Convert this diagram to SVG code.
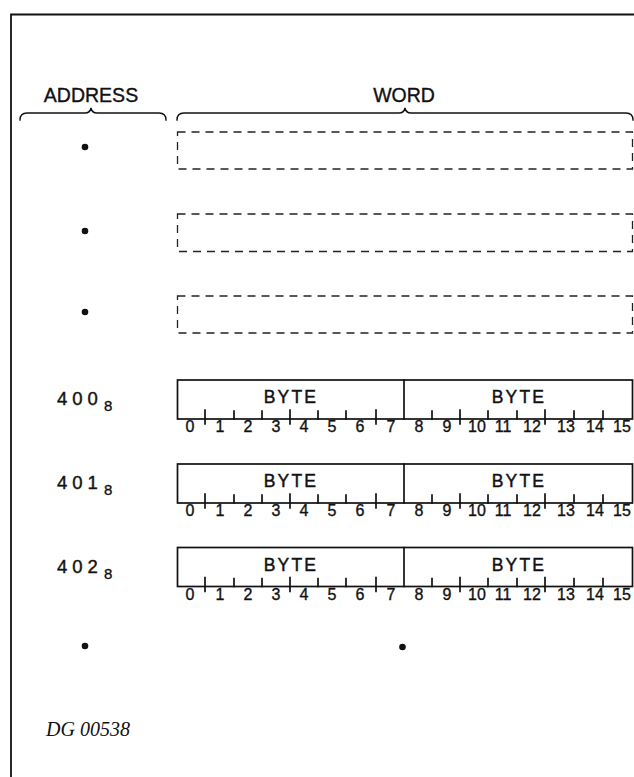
<svg xmlns="http://www.w3.org/2000/svg" width="634" height="777" viewBox="0 0 634 777">
<style>
  .ln{fill:none;stroke:#111;stroke-width:1.7;stroke-linecap:square}
  .dash{fill:none;stroke:#222;stroke-width:1.3;stroke-dasharray:8 6}
  .hd{font-family:"Liberation Sans",Arial,sans-serif;font-size:19.5px;fill:#111;stroke:#111;stroke-width:0.35;text-anchor:middle}
  .byte{font-family:"Liberation Sans",Arial,sans-serif;font-size:17.5px;letter-spacing:2.2px;fill:#111;stroke:#111;stroke-width:0.45;text-anchor:middle}
  .bit{font-family:"Liberation Sans",Arial,sans-serif;font-size:16px;fill:#111;stroke:#111;stroke-width:0.35;text-anchor:middle}
  .adr{font-family:"Liberation Sans",Arial,sans-serif;font-size:18.5px;letter-spacing:5px;fill:#111;stroke:#111;stroke-width:0.4}
  .sub{font-family:"Liberation Sans",Arial,sans-serif;font-size:15px;fill:#111;stroke:#111;stroke-width:0.35}
  .dot{fill:#111}
  .cap{font-family:"Liberation Serif","Times New Roman",serif;font-style:italic;font-size:20px;fill:#111}
</style>
<defs>
  <g id="reg">
    <rect x="177.5" y="380" width="455" height="39" class="ln"/>
    <line x1="404" y1="380" x2="404" y2="419" class="ln"/>
    <path class="ln" d="M205,410V424 M234,411V419 M262,411V419 M290,410V424 M318,411V419 M346,411V419 M376,410V424 M432,411V419 M460,410V424 M488,411V419 M517,411V419 M545,410V424 M574,411V419 M603,411V419"/>
  </g>
</defs>
<rect width="634" height="777" fill="#fff"/>
<g id="frame">
  <path class="ln" d="M11,777V14.5H634" style="stroke-width:1.8"/>
</g>
<g id="address-header">
  <text class="hd" x="91" y="102">ADDRESS</text>
  <path class="ln" d="M20,120Q20,113 27,113H85Q90,113 91,108Q92,113 97,113H159Q166,113 166,120" style="stroke-width:1.4"/>
</g>
<g id="word-header">
  <text class="hd" x="404" y="102">WORD</text>
  <path class="ln" d="M177,120Q177,113 184,113H399Q404,113 405,108Q406,113 411,113H626Q633,113 633,120" style="stroke-width:1.4"/>
</g>
<g id="word-blank-1">
  <circle class="dot" cx="85" cy="147" r="3.3"/>
  <rect class="dash" x="177.5" y="132" width="455" height="37"/>
</g>
<g id="word-blank-2">
  <circle class="dot" cx="85" cy="231" r="3.3"/>
  <rect class="dash" x="177.5" y="214" width="455" height="37.5"/>
</g>
<g id="word-blank-3">
  <circle class="dot" cx="85" cy="312" r="3.3"/>
  <rect class="dash" x="177.5" y="296" width="455" height="37"/>
</g>
<g id="word-400">
  <text class="adr" x="57" y="405">400</text><text class="sub" x="104" y="411">8</text>
  <use href="#reg"/>
  <text class="byte" x="291" y="403">BYTE</text>
  <text class="byte" x="519" y="403">BYTE</text>
  <g class="bit">
    <text x="190" y="432">0</text><text x="220" y="432">1</text><text x="248" y="432">2</text><text x="276" y="432">3</text>
    <text x="304" y="432">4</text><text x="332" y="432">5</text><text x="360" y="432">6</text><text x="391" y="432">7</text>
    <text x="419" y="432">8</text><text x="447" y="432">9</text><text x="477" y="432">10</text><text x="503" y="432">11</text>
    <text x="532" y="432">12</text><text x="566" y="432">13</text><text x="595" y="432">14</text><text x="622" y="432">15</text>
  </g>
</g>
<g id="word-401" transform="translate(0,84)">
  <text class="adr" x="57" y="405">401</text><text class="sub" x="104" y="411">8</text>
  <use href="#reg"/>
  <text class="byte" x="291" y="403">BYTE</text>
  <text class="byte" x="519" y="403">BYTE</text>
  <g class="bit">
    <text x="190" y="432">0</text><text x="220" y="432">1</text><text x="248" y="432">2</text><text x="276" y="432">3</text>
    <text x="304" y="432">4</text><text x="332" y="432">5</text><text x="360" y="432">6</text><text x="391" y="432">7</text>
    <text x="419" y="432">8</text><text x="447" y="432">9</text><text x="477" y="432">10</text><text x="503" y="432">11</text>
    <text x="532" y="432">12</text><text x="566" y="432">13</text><text x="595" y="432">14</text><text x="622" y="432">15</text>
  </g>
</g>
<g id="word-402" transform="translate(0,167.5)">
  <text class="adr" x="57" y="405">402</text><text class="sub" x="104" y="411">8</text>
  <use href="#reg"/>
  <text class="byte" x="291" y="403">BYTE</text>
  <text class="byte" x="519" y="403">BYTE</text>
  <g class="bit">
    <text x="190" y="432">0</text><text x="220" y="432">1</text><text x="248" y="432">2</text><text x="276" y="432">3</text>
    <text x="304" y="432">4</text><text x="332" y="432">5</text><text x="360" y="432">6</text><text x="391" y="432">7</text>
    <text x="419" y="432">8</text><text x="447" y="432">9</text><text x="477" y="432">10</text><text x="503" y="432">11</text>
    <text x="532" y="432">12</text><text x="566" y="432">13</text><text x="595" y="432">14</text><text x="622" y="432">15</text>
  </g>
</g>
<g id="continuation">
  <circle class="dot" cx="85" cy="646" r="3.3"/>
  <circle class="dot" cx="402.5" cy="647" r="3.3"/>
</g>
<g id="caption">
  <text class="cap" x="46" y="736">DG 00538</text>
</g>
<g id="connectors"/>
</svg>
